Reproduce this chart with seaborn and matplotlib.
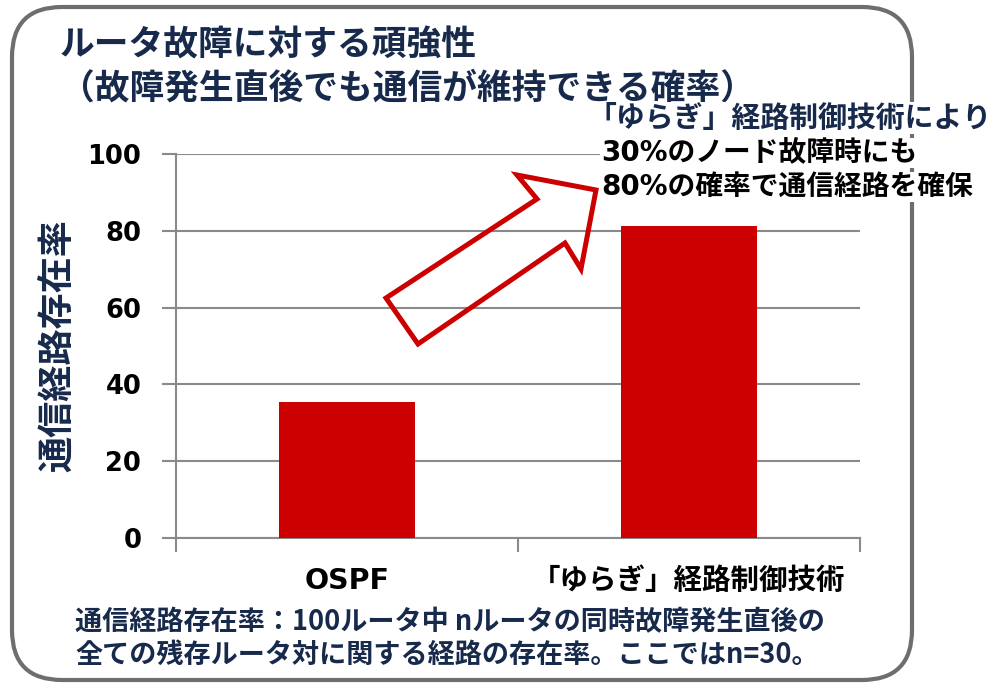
import matplotlib
matplotlib.use("Agg")
import matplotlib.pyplot as plt
import seaborn as sns
import pandas as pd
from matplotlib.patches import FancyBboxPatch, Polygon

# ---- data ----
categories = ["OSPF", "「ゆらぎ」経路制御技術"]
values = [35.5, 81.3]
y_ticks = [0, 20, 40, 60, 80, 100]
title_lines = ["ルータ故障に対する頑強性", "（故障発生直後でも通信が維持できる確率）"]
y_label = "通信経路存在率"
note_lines = ["「ゆらぎ」経路制御技術により", "30%のノード故障時にも", "80%の確率で通信経路を確保"]
foot_lines = ["通信経路存在率：100ルータ中 nルータの同時故障発生直後の",
              "全ての残存ルータ対に関する経路の存在率。ここではn=30。"]

sns.set_theme(style="white")
plt.rcParams['font.family'] = ['DejaVu Sans', 'Noto Sans CJK JP']

W, H, DPI = 991, 683, 100
fig = plt.figure(figsize=(W / DPI, H / DPI), dpi=DPI)
fig.patch.set_facecolor("white")

def fx(px):
    return px / W

def fy(py):
    return 1 - py / H

navy = "#172a4b"
red = "#cc0000"
gray = "#8a8a8a"

ax = fig.add_axes([fx(176), fy(538), fx(860) - fx(176), fy(154) - fy(538)])
df = pd.DataFrame({"cat": categories, "val": values})
sns.barplot(data=df, x="cat", y="val", color=red, width=0.4, saturation=1,
            edgecolor="none", ax=ax, zorder=3)
ax.set_xlim(-0.5, 1.5)
ax.set_ylim(0, 100)
ax.set_facecolor("white")

# gridlines
ax.set_yticks(y_ticks)
ax.set_yticklabels([str(v) for v in y_ticks], fontsize=18.5, fontweight="bold",
                   color="black", family=["DejaVu Sans"])
ax.yaxis.grid(True, color=gray, linewidth=1.5)
ax.set_axisbelow(True)
ax.tick_params(axis="y", direction="out", length=10, width=1.5, color=gray, pad=15, left=True)

# category ticks at boundaries, labels at centers
ax.set_xticks([-0.5, 0.5, 1.5])
ax.set_xticklabels(["", "", ""])
ax.set_xticks([0, 1], minor=True)
ax.set_xticklabels(categories, minor=True, fontsize=20.5, fontweight="bold", color="black",
                   family=["DejaVu Sans", "Noto Sans CJK JP"])
ax.tick_params(axis="x", which="major", direction="out", length=10, width=1.5, color=gray, bottom=True)
ax.tick_params(axis="x", which="minor", length=0, pad=21)
ax.set_xlabel("")

for side in ["top", "right"]:
    ax.spines[side].set_visible(False)
for side in ["left", "bottom"]:
    ax.spines[side].set_color(gray)
    ax.spines[side].set_linewidth(1.5)

ax.set_ylabel(y_label, fontsize=26, fontweight="bold", color=navy,
              family=["Noto Sans CJK JP"], va="center")
ax.yaxis.set_label_coords((58 - 176) / 684, (538 - 346) / 384)

# rounded border (pixel -> inch coordinates)
def inch(px, py):
    return (px / DPI, (H - py) / DPI)

x0, y0 = inch(12, 680)
x1, y1 = inch(912, 7)
border = FancyBboxPatch((x0, y0), x1 - x0, y1 - y0,
                        boxstyle="round,pad=0,rounding_size=0.5",
                        transform=fig.dpi_scale_trans, facecolor="none",
                        edgecolor="#6e6e6e", linewidth=3, zorder=1)
fig.patches.append(border)

# hollow arrow
arrow_px = [(386, 298), (537, 199), (517, 175), (596, 190), (581, 269), (565, 243), (418, 344)]
arrow = Polygon([inch(px, py) for px, py in arrow_px], closed=True,
                transform=fig.dpi_scale_trans, facecolor="none",
                edgecolor=red, linewidth=3.6, joinstyle="miter", zorder=2)
fig.patches.append(arrow)

# title
fig.text(fx(60), fy(45), title_lines[0], fontsize=25, fontweight="bold", color=navy,
         family=["Noto Sans CJK JP"], ha="left", va="center")
fig.text(fx(60), fy(88), title_lines[1], fontsize=25, fontweight="bold", color=navy,
         family=["Noto Sans CJK JP"], ha="left", va="center")

# annotation
bb = dict(facecolor="white", edgecolor="none", pad=1)
fig.text(fx(588), fy(118), note_lines[0], fontsize=20.8, fontweight="bold", color=navy,
         family=["Noto Sans CJK JP"], ha="left", va="center", bbox=bb, zorder=5)
fig.text(fx(601), fy(153), note_lines[1], fontsize=20, fontweight="bold", color="black",
         family=["DejaVu Sans", "Noto Sans CJK JP"], ha="left", va="center", bbox=bb, zorder=5)
fig.text(fx(601), fy(187), note_lines[2], fontsize=20, fontweight="bold", color="black",
         family=["DejaVu Sans", "Noto Sans CJK JP"], ha="left", va="center", bbox=bb, zorder=5)

# footnote
fig.text(fx(75), fy(622), foot_lines[0], fontsize=19.5, fontweight="bold", color=navy,
         family=["Noto Sans CJK JP"], ha="left", va="center")
fig.text(fx(75), fy(655), foot_lines[1], fontsize=19.5, fontweight="bold", color=navy,
         family=["Noto Sans CJK JP"], ha="left", va="center")

fig.savefig("out.png", dpi=DPI, facecolor="white")
